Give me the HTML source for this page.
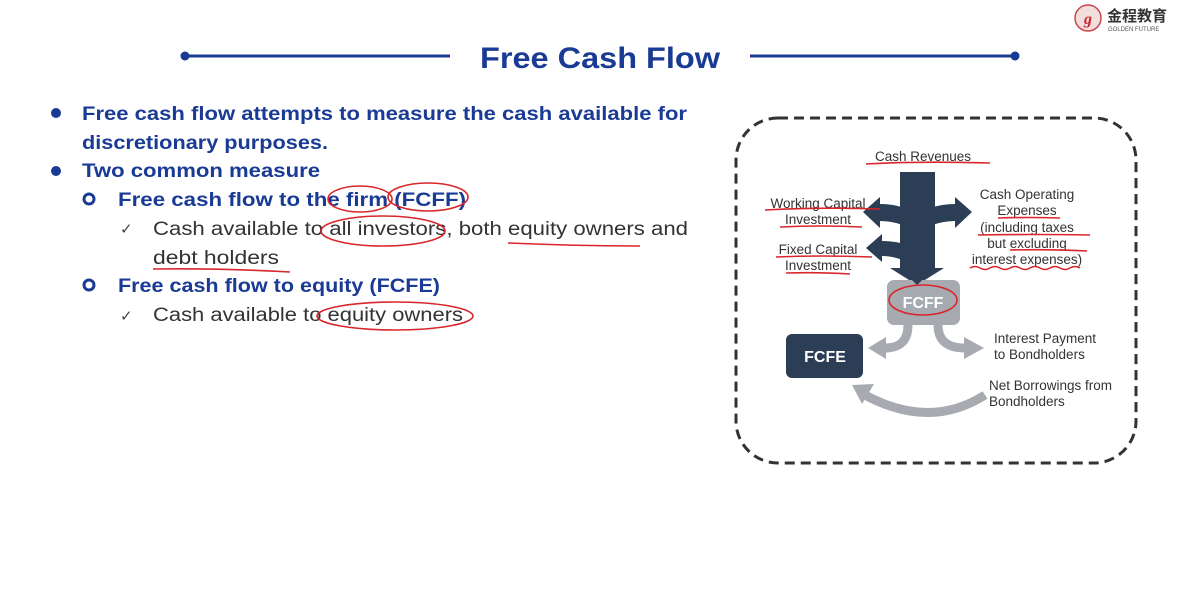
<!DOCTYPE html>
<html><head><meta charset="utf-8"><style>
html,body{margin:0;padding:0;background:#fff;}
svg{display:block;font-family:"Liberation Sans","DejaVu Sans",sans-serif;}
.b{font-weight:bold;fill:#1a3b95;font-size:19px;}
.n{fill:#333;font-size:19px;}
.d{fill:#333;font-size:13.5px;}
.r{fill:none;stroke:#d8262b;stroke-width:1.6;}
</style></head><body>
<svg width="1200" height="600" viewBox="0 0 1200 600">
<rect width="1200" height="600" fill="#fff"/>
<circle cx="1088" cy="18" r="13" fill="#f3dede" stroke="#c9474a" stroke-width="1.5"/>
<text x="1088" y="24" font-size="16" font-style="italic" font-weight="bold" fill="#c9252b" text-anchor="middle" font-family="Liberation Serif,serif">g</text>
<text x="1107" y="21" font-size="15" font-weight="bold" fill="#333" font-family="Liberation Sans,Noto Sans CJK SC,sans-serif">金程教育</text>
<text x="1108" y="31" font-size="6" fill="#555">GOLDEN FUTURE</text>
<line x1="185" y1="56" x2="450" y2="56" stroke="#1a3b95" stroke-width="3"/>
<circle cx="185" cy="56" r="4.5" fill="#1a3b95"/>
<line x1="750" y1="56" x2="1015" y2="56" stroke="#1a3b95" stroke-width="3"/>
<circle cx="1015" cy="56" r="4.5" fill="#1a3b95"/>
<text x="600" y="68" text-anchor="middle" font-size="30" font-weight="bold" fill="#1a3b95" textLength="240" lengthAdjust="spacingAndGlyphs">Free Cash Flow</text>
<circle cx="56" cy="113" r="5" fill="#1a3b95"/>
<circle cx="56" cy="171" r="5" fill="#1a3b95"/>
<circle cx="89" cy="199" r="5" fill="none" stroke="#1a3b95" stroke-width="3"/>
<circle cx="89" cy="285" r="5" fill="none" stroke="#1a3b95" stroke-width="3"/>
<text class="b" x="82" y="120" textLength="605" lengthAdjust="spacingAndGlyphs">Free cash flow attempts to measure the cash available for</text>
<text class="b" x="82" y="149" textLength="246" lengthAdjust="spacingAndGlyphs">discretionary purposes.</text>
<text class="b" x="82" y="177" textLength="238" lengthAdjust="spacingAndGlyphs">Two common measure</text>
<text class="b" x="118" y="206" textLength="348" lengthAdjust="spacingAndGlyphs">Free cash flow to the firm (FCFF)</text>
<text class="b" x="118" y="292" textLength="322" lengthAdjust="spacingAndGlyphs">Free cash flow to equity (FCFE)</text>
<text x="120" y="234" font-size="15" fill="#444">✓</text>
<text x="120" y="321" font-size="15" fill="#444">✓</text>
<text class="n" x="153" y="235" textLength="535" lengthAdjust="spacingAndGlyphs">Cash available to all investors, both equity owners and</text>
<text class="n" x="153" y="264" textLength="126" lengthAdjust="spacingAndGlyphs">debt holders</text>
<text class="n" x="153" y="321" textLength="310" lengthAdjust="spacingAndGlyphs">Cash available to equity owners</text>
<ellipse cx="360" cy="199" rx="32" ry="13" class="r"/>
<ellipse cx="428" cy="197" rx="40" ry="14" class="r"/>
<ellipse cx="383" cy="231" rx="62" ry="15" class="r"/>
<path d="M508 243 Q580 246 640 246" class="r"/>
<path d="M153 269 Q220 268 290 272" class="r"/>
<ellipse cx="395" cy="316" rx="78" ry="14" class="r"/>
<rect x="736" y="118" width="400" height="345" rx="42" fill="none" stroke="#333" stroke-width="3" stroke-dasharray="10,6"/>
<g fill="#2c3e55">
<path d="M900 172 H935 V268 H944 L917 285 L890 268 H900 Z"/>
<path d="M905 208 Q893 204 880 204 V197 L863 212 L880 228 V221 Q893 221 905 226 Z"/>
<path d="M930 208 Q942 204 955 204 V197 L972 212 L955 228 V221 Q942 221 930 226 Z"/>
<path d="M905 244 Q893 241 882 241 V234 L866 248 L882 262 V256 Q893 256 905 261 Z"/>
</g>
<rect x="887" y="280" width="73" height="45" rx="7" fill="#a7abb1"/>
<path d="M900 268 H935 L917 285 Z" fill="#2c3e55"/>
<text x="923" y="308" text-anchor="middle" font-size="16" font-weight="bold" fill="#fff">FCFF</text>
<ellipse cx="923" cy="300" rx="34" ry="15" class="r" stroke-width="2"/>
<g fill="none" stroke="#a7abb1" stroke-width="9">
<path d="M908 325 Q908 348 885 348"/>
<path d="M938 325 Q938 348 965 348"/>
<path d="M985 395 Q930 430 865 395"/>
</g>
<g fill="#a7abb1">
<path d="M868 348 L886 337 V359 Z"/>
<path d="M984 348 L964 337 V359 Z"/>
<path d="M852 385 L874 384 L862 404 Z"/>
</g>
<rect x="786" y="334" width="77" height="44" rx="6" fill="#2c3e55"/>
<text x="825" y="362" text-anchor="middle" font-size="16" font-weight="bold" fill="#fff">FCFE</text>
<text class="d" x="923" y="161" text-anchor="middle" font-size="14">Cash Revenues</text>
<text class="d" x="818" y="208" text-anchor="middle">Working Capital</text>
<text class="d" x="818" y="224" text-anchor="middle">Investment</text>
<text class="d" x="818" y="254" text-anchor="middle">Fixed Capital</text>
<text class="d" x="818" y="270" text-anchor="middle">Investment</text>
<text class="d" x="1027" y="199" text-anchor="middle">Cash Operating</text>
<text class="d" x="1027" y="215" text-anchor="middle">Expenses</text>
<text class="d" x="1027" y="232" text-anchor="middle">(including taxes</text>
<text class="d" x="1027" y="248" text-anchor="middle">but excluding</text>
<text class="d" x="1027" y="264" text-anchor="middle">interest expenses)</text>
<text class="d" x="994" y="343">Interest Payment</text>
<text class="d" x="994" y="359">to Bondholders</text>
<text class="d" x="989" y="390">Net Borrowings from</text>
<text class="d" x="989" y="406">Bondholders</text>
<path d="M866 164 Q920 161 990 163" class="r"/>
<path d="M765 210 Q820 207 880 209" class="r"/>
<path d="M780 227 Q820 225 862 227" class="r"/>
<path d="M776 257 Q820 255 872 257" class="r"/>
<path d="M786 273 Q820 272 850 274" class="r"/>
<path d="M998 218 Q1030 217 1060 218" class="r"/>
<path d="M978 235 Q1030 234 1090 235" class="r"/>
<path d="M1010 250 Q1050 249 1087 251" class="r"/>
<path d="M970 268 q5 -3 10 0 t10 0 t10 0 t10 0 t10 0 t10 0 t10 0 t10 0 t10 0 t10 0 t10 0" class="r"/>
</svg>
</body></html>
